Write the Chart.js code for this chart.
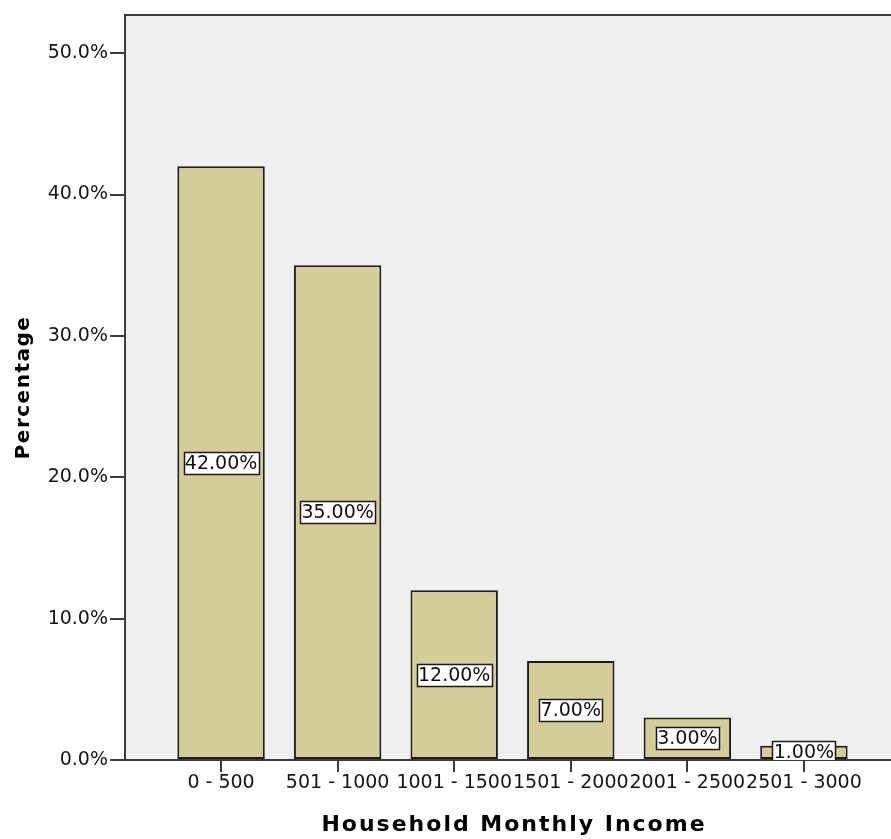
<!DOCTYPE html>
<html>
<head>
<meta charset="utf-8">
<script src="https://cdn.jsdelivr.net/npm/chart.js@4/dist/chart.umd.min.js"></script>
<style>
  html, body { margin: 0; padding: 0; background: #fff; overflow: hidden; }
  canvas { display: block; }
</style>
</head>
<body>
<canvas id="c" width="912" height="839"></canvas>
<script>
// Income bands and the share of households in each
const categories = ['0 - 500', '501 - 1000', '1001 - 1500', '1501 - 2000', '2001 - 2500', '2501 - 3000'];
const percentages = [42, 35, 12, 7, 3, 1];
const yTickValues = [0, 10, 20, 30, 40, 50];
const xTitle = 'Household Monthly Income';
const yTitle = 'Percentage';

const FONT = "'DejaVu Sans', Verdana, sans-serif";
const AXIS_COLOR = '#3a3a3a';

// Light grey plot background and the frame line across the top
const plotFrame = {
  id: 'plotFrame',
  beforeDraw(chart) {
    const { ctx, chartArea: a } = chart;
    ctx.save();
    ctx.fillStyle = '#efefef';
    ctx.fillRect(a.left, a.top, a.right - a.left, a.bottom - a.top);
    ctx.restore();
  },
  afterDraw(chart) {
    const { ctx, chartArea: a } = chart;
    ctx.save();
    ctx.strokeStyle = AXIS_COLOR;
    ctx.lineWidth = 2;
    ctx.beginPath();
    ctx.moveTo(a.left - 1, a.top);
    ctx.lineTo(a.right, a.top);
    ctx.stroke();
    ctx.restore();
  }
};

// Boxed percentage label in the middle of each bar
const valueLabels = {
  id: 'valueLabels',
  afterDatasetsDraw(chart) {
    const { ctx, chartArea: a } = chart;
    const meta = chart.getDatasetMeta(0);
    ctx.save();
    ctx.beginPath();
    ctx.rect(a.left, a.top, a.right - a.left, a.bottom - a.top);
    ctx.clip();
    ctx.font = '19px ' + FONT;
    ctx.textAlign = 'center';
    ctx.textBaseline = 'middle';
    meta.data.forEach((bar, i) => {
      const text = percentages[i].toFixed(2) + '%';
      const cx = bar.x;
      const cy = (bar.y + bar.base) / 2;
      const w = Math.round(ctx.measureText(text).width + 3);
      const h = 22;
      const bx = Math.round(cx - w / 2) + 0.5;
      const by = Math.round(cy - h / 2) + 0.5;
      ctx.fillStyle = '#ffffff';
      ctx.fillRect(bx, by, w, h);
      ctx.strokeStyle = '#1a1a1a';
      ctx.lineWidth = 1.5;
      ctx.strokeRect(bx, by, w, h);
      ctx.fillStyle = '#111';
      ctx.fillText(text, cx, cy + 1);
    });
    ctx.restore();
  }
};

// Bold axis titles
const axisTitles = {
  id: 'axisTitles',
  afterDraw(chart) {
    const { ctx, chartArea: a } = chart;
    ctx.save();
    ctx.fillStyle = '#000';
    ctx.textAlign = 'center';
    ctx.textBaseline = 'middle';
    ctx.font = 'bold 22px ' + FONT;
    if ('letterSpacing' in ctx) ctx.letterSpacing = '2px';
    ctx.fillText(xTitle, (a.left + a.right) / 2, 825);
    ctx.font = 'bold 20px ' + FONT;
    if ('letterSpacing' in ctx) ctx.letterSpacing = '1.5px';
    ctx.translate(24, (a.top + a.bottom) / 2);
    ctx.rotate(-Math.PI / 2);
    ctx.fillText(yTitle, 0, 0);
    ctx.restore();
  }
};

new Chart(document.getElementById('c'), {
  type: 'bar',
  data: {
    datasets: [{
      data: percentages.map((v, i) => ({ x: i, y: v })),
      backgroundColor: '#d3cd98',
      borderColor: '#1e1e1e',
      borderWidth: 2,
      borderSkipped: false,
      categoryPercentage: 1,
      barPercentage: 0.75
    }]
  },
  options: {
    responsive: false,
    animation: false,
    devicePixelRatio: 1,
    layout: { padding: { top: 15, right: 9, left: 0, bottom: 0 } },
    plugins: {
      legend: { display: false },
      tooltip: { enabled: false }
    },
    scales: {
      x: {
        type: 'linear',
        offset: false,
        min: -0.824,
        max: 5.85,
        afterBuildTicks(scale) {
          scale.ticks = categories.map((_, i) => ({ value: i }));
        },
        afterFit(scale) { scale.height = 79; },
        ticks: {
          autoSkip: false,
          maxRotation: 0,
          padding: 0,
          color: '#151515',
          font: { family: FONT, size: 19 },
          callback: (v) => categories[v] ?? ''
        },
        grid: {
          offset: false,
          drawOnChartArea: false,
          drawTicks: true,
          tickLength: 12,
          color: AXIS_COLOR,
          lineWidth: 2
        },
        border: { display: true, color: AXIS_COLOR, width: 2 }
      },
      y: {
        min: 0,
        max: 52.7,
        afterBuildTicks(scale) {
          scale.ticks = yTickValues.map(v => ({ value: v }));
        },
        afterFit(scale) { scale.width = 125; },
        ticks: {
          padding: 2,
          color: '#151515',
          font: { family: FONT, size: 19 },
          callback: (v) => v.toFixed(1) + '%'
        },
        grid: {
          drawOnChartArea: false,
          drawTicks: true,
          tickLength: 15,
          color: AXIS_COLOR,
          lineWidth: 2
        },
        border: { display: true, color: AXIS_COLOR, width: 2 }
      }
    }
  },
  plugins: [plotFrame, valueLabels, axisTitles]
});
</script>
</body>
</html>
